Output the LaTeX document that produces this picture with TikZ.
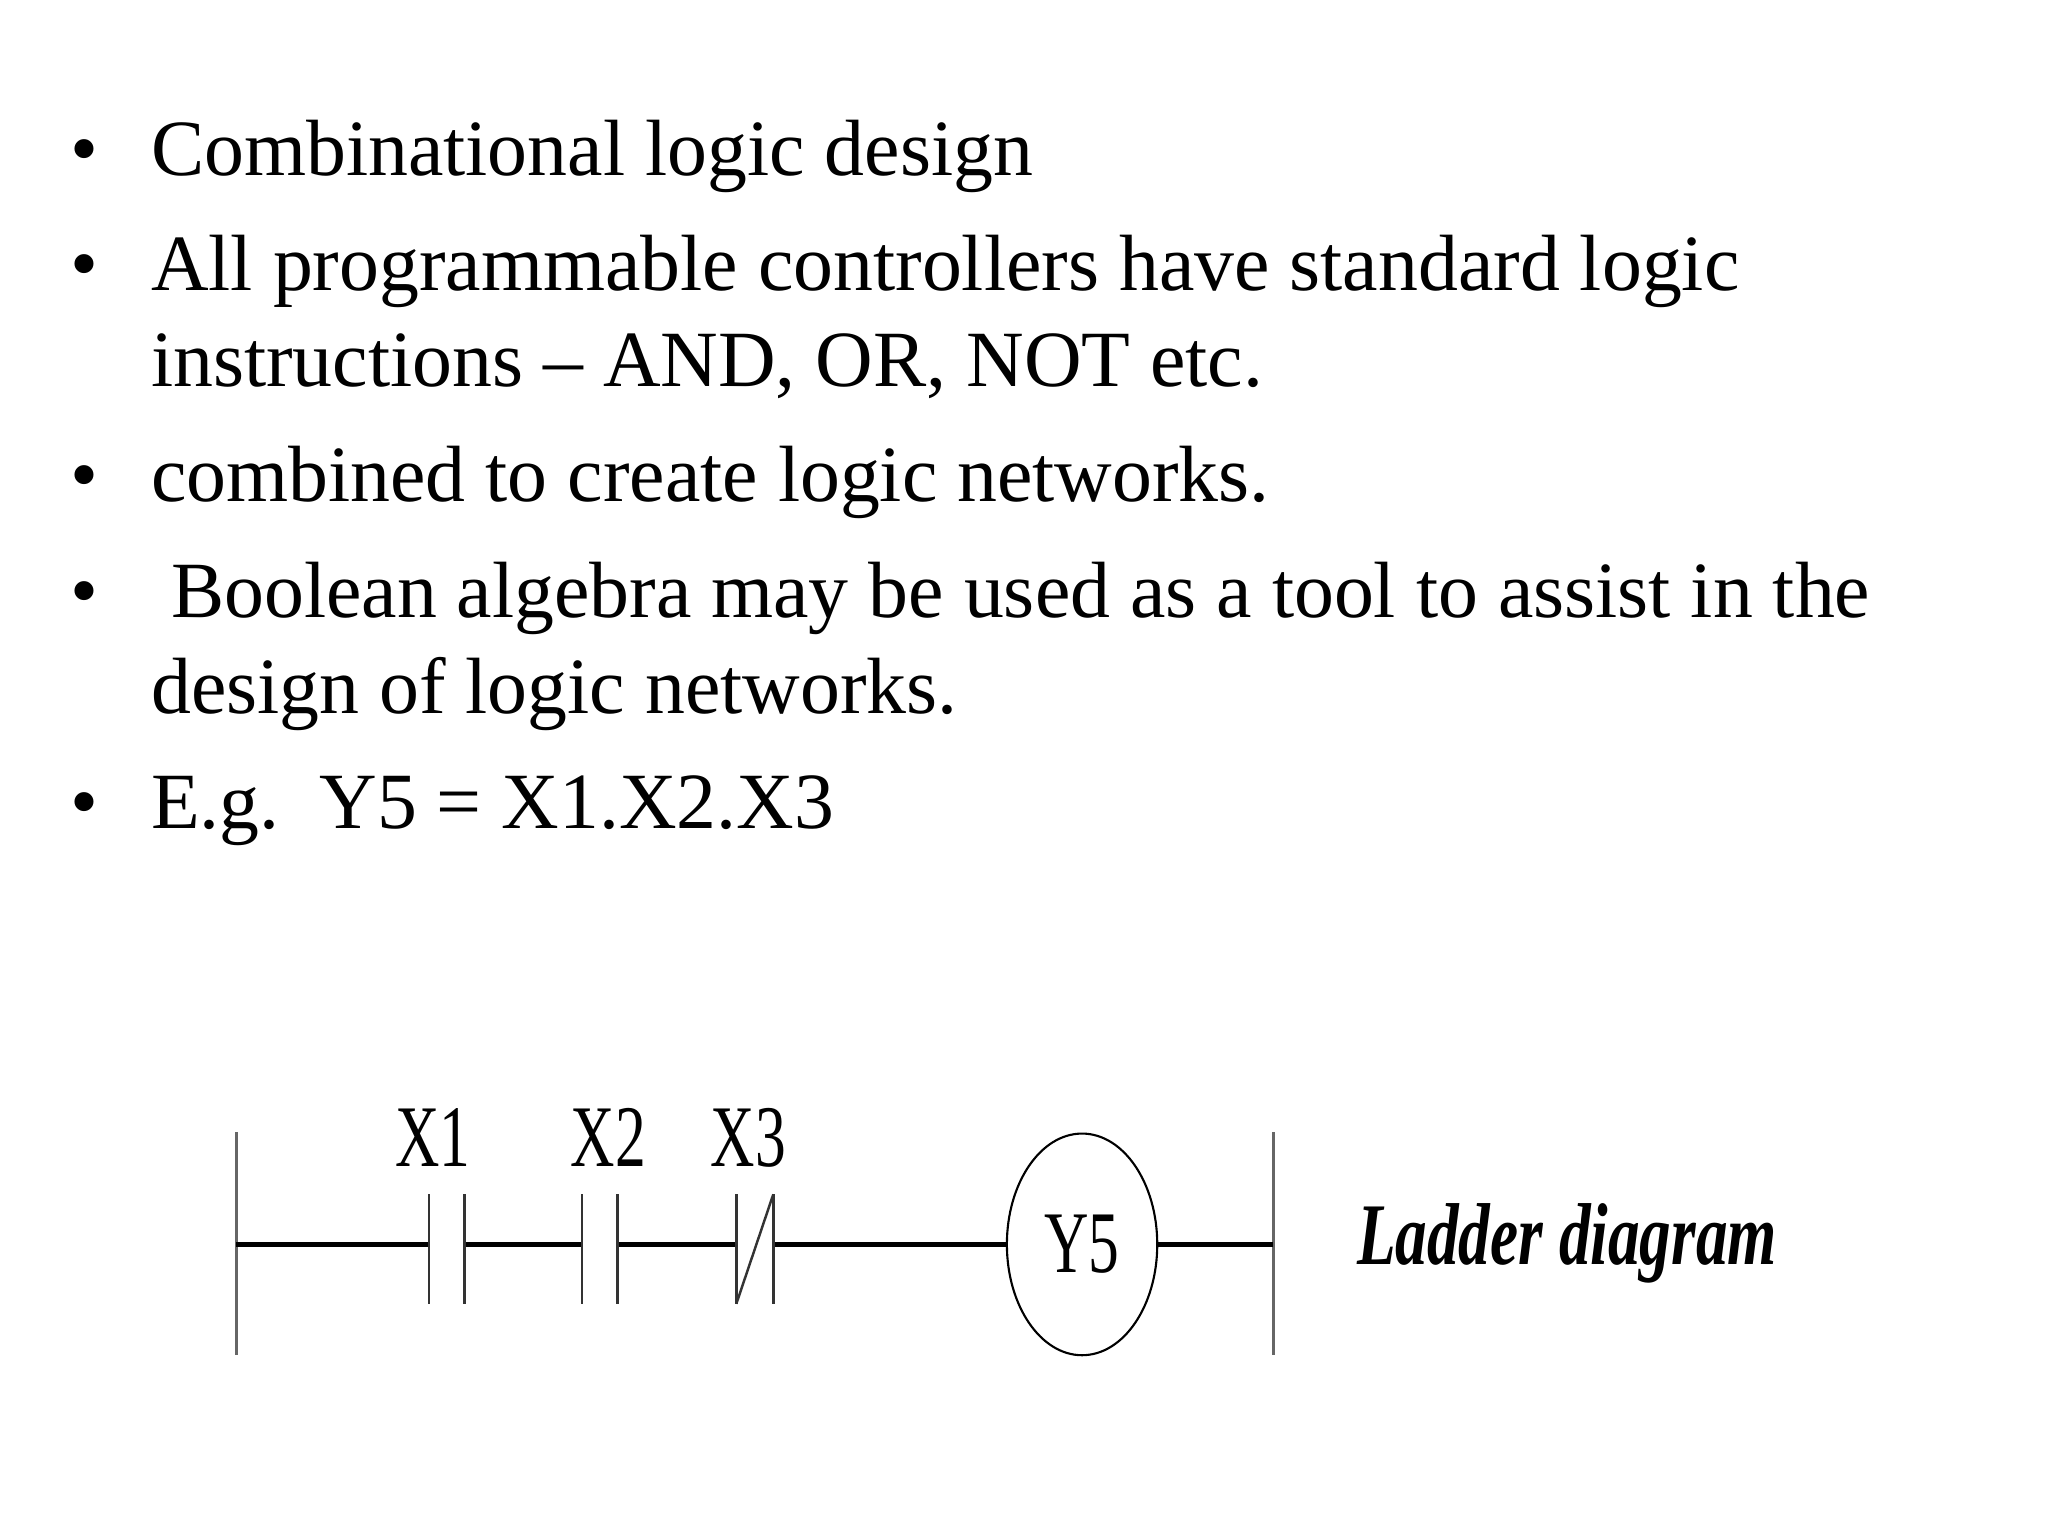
\documentclass[tikz,border=0pt]{standalone}
\usepackage{fontspec}
\setmainfont{Liberation Serif}
\usetikzlibrary{shapes.geometric}
\begin{document}
\begin{tikzpicture}[x=0.013196cm,y=-0.013196cm,
  txt/.style={anchor=base west,inner sep=0pt,font=\fontsize{22.7}{27}\selectfont},
  bul/.style={anchor=base,inner sep=0pt,font=\fontsize{22.7}{27}\selectfont},
  lbl/.style={inner sep=0pt,font=\fontsize{25}{30}\selectfont,xscale=0.7},
  rail/.style={line width=0.9pt,draw=black!60},
  wire/.style={line width=1.3pt},
  cont/.style={line width=0.7pt,draw=black!80}]
\useasboundingbox (0,0) rectangle (1552,1164);
\foreach \yy in {133,220,380,468,628}{\node[bul] at (64,\yy) {•};}
\node[txt] (t1) at (114,133) {Combinational logic design};
\node[txt] (t2) at (114,220) {All programmable controllers have standard logic};
\node[txt] (t3) at (114,293) {instructions – AND, OR, NOT etc.};
\node[txt] (t4) at (114,380) {combined to create logic networks.};
\node[txt] (t5) at (114,468) {\ Boolean algebra may be used as a tool to assist in the};
\node[txt] (t6) at (114,541) {design of logic networks.};
\node[txt] (t7) at (114,628) {E.g.\ \ Y5 = X1.X2.X3};
% ladder
\coordinate (la) at (179,858); \coordinate (lb) at (179,1027);
\coordinate (ra) at (965,858); \coordinate (rb) at (965,1027);
\draw[rail] (la) -- (lb); \draw[rail] (ra) -- (rb);
\coordinate (l0) at (179,943);
\coordinate (a1) at (325,943); \coordinate (b1) at (352,943);
\coordinate (a2) at (441,943); \coordinate (b2) at (468,943);
\coordinate (a3) at (558,943); \coordinate (b3) at (586,943);
\coordinate (r0) at (965,943);
\node[draw,ellipse,minimum width=1.504cm,minimum height=2.217cm,inner sep=0pt,line width=0.6pt] (coil) at (820,943) {};
\node[lbl] at (coil) {Y5};
\draw[wire] (l0) -- (a1) (b1) -- (a2) (b2) -- (a3) (b3) -- (coil.west) (coil.east) -- (r0);
\foreach \c in {a1,b1,a2,b2,a3,b3}{\draw[cont] ([yshift=0.501cm]\c) -- ([yshift=-0.594cm]\c);}
\draw[cont] ([yshift=-0.594cm]a3) -- ([yshift=0.501cm]b3);
\node[lbl,anchor=base] at (328,884) {X1};
\node[lbl,anchor=base] at (461,884) {X2};
\node[lbl,anchor=base] at (567,884) {X3};
\node[inner sep=0pt,anchor=west,font=\fontsize{25}{30}\selectfont\bfseries\itshape,xscale=0.72] (ld) at (1028,942) {Ladder diagram};
\end{tikzpicture}
\end{document}
